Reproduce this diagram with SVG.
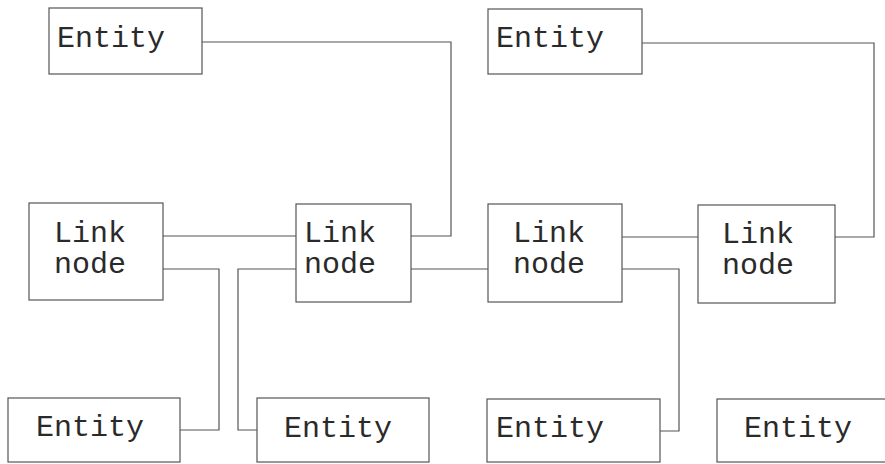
<svg xmlns="http://www.w3.org/2000/svg" width="885" height="464" viewBox="0 0 885 464">
<style>
.box{fill:#fff;stroke:#555;stroke-width:1.2}
.lbl{font-family:"Liberation Mono","Courier New",monospace;font-size:30px;fill:#2a2a2a}
.con{fill:none;stroke:#555;stroke-width:1.2}
</style>
<rect width="885" height="464" fill="#fff"/>
<g id="connectors">
<polyline class="con" points="202,42 451,42 451,236 411,236"/>
<polyline class="con" points="642,43 874,43 874,237 835,237"/>
<polyline class="con" points="163,236 296,236"/>
<polyline class="con" points="163,269 219,269 219,430 180,430"/>
<polyline class="con" points="296,269 238,269 238,430 257,430"/>
<polyline class="con" points="411,269 488,269"/>
<polyline class="con" points="622,237 698,237"/>
<polyline class="con" points="622,269 679,269 679,431 660,431"/>
</g>
<g id="entity-top-left">
<rect class="box" x="49" y="8" width="153" height="66"/>
<text class="lbl" x="57" y="47">Entity</text>
</g>
<g id="entity-top-right">
<rect class="box" x="488" y="9" width="154" height="65"/>
<text class="lbl" x="496" y="47">Entity</text>
</g>
<g id="link-node-1">
<rect class="box" x="29" y="203" width="134" height="97"/>
<text class="lbl" x="54" y="242">Link</text>
<text class="lbl" x="54" y="273">node</text>
</g>
<g id="link-node-2">
<rect class="box" x="296" y="204" width="115" height="98"/>
<text class="lbl" x="304" y="242">Link</text>
<text class="lbl" x="304" y="273">node</text>
</g>
<g id="link-node-3">
<rect class="box" x="488" y="204" width="134" height="98"/>
<text class="lbl" x="513" y="242">Link</text>
<text class="lbl" x="513" y="273">node</text>
</g>
<g id="link-node-4">
<rect class="box" x="698" y="205" width="137" height="98"/>
<text class="lbl" x="722" y="243">Link</text>
<text class="lbl" x="722" y="274">node</text>
</g>
<g id="entity-bottom-1">
<rect class="box" x="8" y="398" width="172" height="64"/>
<text class="lbl" x="36" y="436">Entity</text>
</g>
<g id="entity-bottom-2">
<rect class="box" x="257" y="398" width="172" height="64"/>
<text class="lbl" x="284" y="437">Entity</text>
</g>
<g id="entity-bottom-3">
<rect class="box" x="487" y="399" width="173" height="63"/>
<text class="lbl" x="496" y="437">Entity</text>
</g>
<g id="entity-bottom-4">
<rect class="box" x="717" y="399" width="180" height="63"/>
<text class="lbl" x="744" y="437">Entity</text>
</g>
</svg>
